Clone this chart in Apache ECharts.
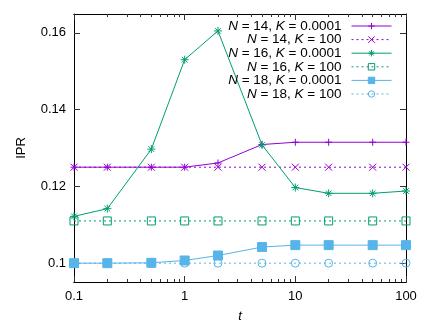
<!DOCTYPE html>
<html>
<head>
<meta charset="utf-8">
<script src="https://cdn.jsdelivr.net/npm/echarts@6/dist/echarts.min.js"></script>
<style>
  html, body { margin: 0; padding: 0; background: #fff; }
  #chart { width: 436px; height: 328px; }
</style>
</head>
<body>
<div id="chart"></div>
<script>
  // time values (log axis)
  const tValues = [0.1, 0.2, 0.5, 1, 2, 5, 10, 20, 50, 100];
  // IPR series
  const n14k0001 = [0.125, 0.125, 0.125, 0.125, 0.1261, 0.1309, 0.1315, 0.1315, 0.1315, 0.1315];
  const n14k100 = [0.125, 0.125, 0.125, 0.125, 0.125, 0.125, 0.125, 0.125, 0.125, 0.125];
  const n16k0001 = [0.1122, 0.1142, 0.1297, 0.1530, 0.1605, 0.1308, 0.1197, 0.1182, 0.1182, 0.1188];
  const n16k100 = [0.111, 0.111, 0.111, 0.111, 0.111, 0.111, 0.111, 0.111, 0.111, 0.111];
  const n18k0001 = [0.1, 0.1, 0.1001, 0.1007, 0.1020, 0.1042, 0.1047, 0.1047, 0.1047, 0.1047];
  const n18k100 = [0.1, 0.1, 0.1, 0.1, 0.1, 0.1, 0.1, 0.1, 0.1, 0.1];
  const seriesNames = ['N = 14, K = 0.0001', 'N = 14, K = 100', 'N = 16, K = 0.0001',
    'N = 16, K = 100', 'N = 18, K = 0.0001', 'N = 18, K = 100'];
  const xMajor = [0.1, 1, 10, 100];
  const xMinor = [0.2, 0.3, 0.4, 0.5, 0.6, 0.7, 0.8, 0.9, 2, 3, 4, 5, 6, 7, 8, 9,
    20, 30, 40, 50, 60, 70, 80, 90];
  const yTicks = [0.1, 0.12, 0.14, 0.16];

  const FONT = 'Liberation Sans';
  const FS = 13;
  const LFS = 13.5;
  const purple = '#9400d3';
  const green = '#009e73';
  const blue = '#56b4e9';

  const plus = 'path://M0,5L10,5M5,0L5,10';
  const cross = 'path://M0,0L10,10M10,0L0,10';
  const star = 'path://M0,5L10,5M5,0L5,10M1.5,1.5L8.5,8.5M8.5,1.5L1.5,8.5';

  function pairs(vals) {
    return tValues.map((t, i) => [t, vals[i]]);
  }

  function makeSeries(name, vals, color, dashed, symbol, size, filled) {
    return {
      name: name,
      type: 'line',
      data: pairs(vals),
      symbol: symbol,
      symbolSize: size,
      showSymbol: true,
      lineStyle: { color: color, width: 1, type: dashed ? [2, 3] : 'solid' },
      itemStyle: {
        color: filled ? color : 'rgba(255,255,255,0)',
        borderColor: color,
        borderWidth: 1
      },
      emphasis: { disabled: true },
      animation: false
    };
  }

  const series = [
    makeSeries(seriesNames[0], n14k0001, purple, false, plus, 7, false),
    makeSeries(seriesNames[1], n14k100, purple, true, cross, 7, false),
    makeSeries(seriesNames[2], n16k0001, green, false, star, 8, false),
    makeSeries(seriesNames[3], n16k100, green, true, 'rect', 8, false),
    makeSeries(seriesNames[4], n18k0001, blue, false, 'rect', 9, true),
    makeSeries(seriesNames[5], n18k100, blue, true, 'circle', 8, false)
  ];

  // one legend per row so that all samples line up on the right
  const legends = seriesNames.map((name, i) => ({
    data: [name],
    right: 44,
    top: 19 + i * 13.6,
    orient: 'vertical',
    align: 'right',
    padding: 0,
    itemWidth: 40,
    itemHeight: 8,
    itemGap: 0,
    selectedMode: false,
    lineStyle: { width: 1 },
    itemStyle: { borderWidth: 1 },
    formatter: n => n.replace('N', '{i|N}').replace('K', '{i|K}'),
    textStyle: {
      fontFamily: FONT,
      fontSize: LFS,
      color: '#000',
      padding: [0, 5, 0, 0],
      rich: { i: { fontStyle: 'italic', fontFamily: FONT, fontSize: LFS, color: '#000' } }
    }
  }));

  function xAxisDef(pos, ticks, len, showLabel) {
    return {
      type: 'log',
      logBase: 10,
      min: 0.1,
      max: 100,
      position: pos,
      gridIndex: 0,
      axisLine: { show: true, onZero: false, lineStyle: { color: '#000', width: 1 } },
      axisTick: { show: true, inside: true, length: len, customValues: ticks,
        lineStyle: { color: '#333' } },
      axisLabel: { show: showLabel, customValues: xMajor, margin: 8,
        fontFamily: FONT, fontSize: FS, color: '#000' },
      splitLine: { show: false },
      minorTick: { show: false },
      name: showLabel ? 't' : '',
      nameLocation: 'middle',
      nameGap: 28,
      nameTextStyle: { fontFamily: FONT, fontSize: FS, fontStyle: 'italic', color: '#000' }
    };
  }

  function yAxisDef(pos, showLabel) {
    return {
      type: 'value',
      min: 0.0951,
      max: 0.1649,
      position: pos,
      axisLine: { show: true, onZero: false, lineStyle: { color: '#000', width: 1 } },
      axisTick: { show: true, inside: true, length: 6, customValues: yTicks,
        lineStyle: { color: '#333' } },
      axisLabel: { show: showLabel, customValues: yTicks, margin: 8,
        fontFamily: FONT, fontSize: FS, color: '#000' },
      splitLine: { show: false },
      name: showLabel ? 'IPR' : '',
      nameLocation: 'middle',
      nameGap: 46,
      nameTextStyle: { fontFamily: FONT, fontSize: FS, color: '#000' }
    };
  }

  const chart = echarts.init(document.getElementById('chart'));
  chart.setOption({
    backgroundColor: '#fff',
    animation: false,
    grid: { left: 74, right: 30, top: 14, bottom: 44, containLabel: false },
    legend: legends,
    xAxis: [
      xAxisDef('bottom', xMajor, 6, true),
      xAxisDef('bottom', xMinor, 3, false),
      xAxisDef('top', xMajor, 6, false),
      xAxisDef('top', xMinor, 3, false)
    ],
    yAxis: [
      yAxisDef('left', true),
      yAxisDef('right', false)
    ],
    series: series
  });
</script>
</body>
</html>
